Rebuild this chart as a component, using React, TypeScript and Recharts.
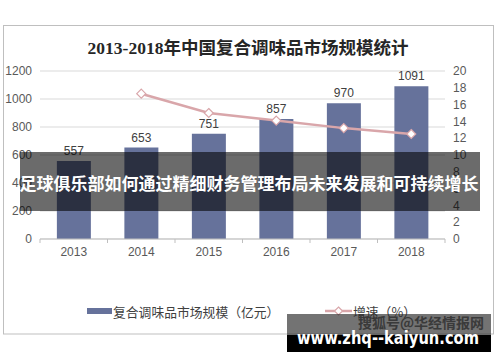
import React from 'react';
import { ComposedChart, Bar, Line, XAxis, YAxis, CartesianGrid, LabelList } from 'recharts';

const years = ['2013', '2014', '2015', '2016', '2017', '2018'];
const marketSize = [557, 653, 751, 857, 970, 1091];
const growth: (number | null)[] = [null, 17.3, 15.0, 14.1, 13.2, 12.5];
const leftTicks = [0, 200, 400, 600, 800, 1000, 1200];
const rightTicks = [0, 2, 4, 6, 8, 10, 12, 14, 16, 18, 20];

const title = '2013-2018年中国复合调味品市场规模统计';
const barName = '复合调味品市场规模（亿元）';
const lineName = '增速（%）';
const bannerText = '足球俱乐部如何通过精细财务管理布局未来发展和可持续增长';
const wmTop = '搜狐号@华经情报网';
const wmUrl = 'www.zhq--kaiyun.com';

const data = years.map((y, i) => ({ year: y, size: marketSize[i], growth: growth[i] }));

const BAR_COLOR = '#66729b';
const LINE_COLOR = '#d9a6aa';
const TICK_FONT = '"Liberation Sans", Arial, sans-serif';
const CJK = '"Noto Sans CJK SC", sans-serif';

const Diamond = (props: any) => {
  const { cx, cy, value } = props;
  if (value == null || cx == null || cy == null) return null;
  const r = 4.5;
  return (
    <path
      d={`M${cx},${cy - r} L${cx + r},${cy} L${cx},${cy + r} L${cx - r},${cy} Z`}
      fill="#ffffff"
      stroke={LINE_COLOR}
      strokeWidth={1.2}
    />
  );
};

const XTick = (props: any) => {
  const { x, y, payload, index } = props;
  const half = 33.75;
  return (
    <g>
      <line x1={x - half} x2={x - half} y1={y - 8} y2={y - 4} stroke="#bfbfbf" />
      {index === years.length - 1 && (
        <line x1={x + half} x2={x + half} y1={y - 8} y2={y - 4} stroke="#bfbfbf" />
      )}
      <text x={x} y={y} dy="0.71em" textAnchor="middle" fill="#595959" fontSize={12} fontFamily={TICK_FONT}>
        {payload.value}
      </text>
    </g>
  );
};

export default function App() {
  return (
    <div style={{ position: 'absolute', left: 0, top: 0, width: 500, height: 362, background: '#ffffff', overflow: 'hidden' }}>
      <ComposedChart
        width={500}
        height={362}
        data={data}
        margin={{ top: 71, right: 0, bottom: 93, left: 0 }}
        barCategoryGap="25%"
      >
        <CartesianGrid yAxisId="left" vertical={false} stroke="#d9d9d9" />
        <XAxis
          dataKey="year"
          axisLine={{ stroke: '#bfbfbf' }}
          tickLine={false}
          tickSize={0}
          tickMargin={8}
          tick={<XTick />}
          interval={0}
        />
        <YAxis
          yAxisId="left"
          orientation="left"
          width={40}
          domain={[0, 1200]}
          ticks={leftTicks}
          interval={0}
          axisLine={false}
          tickLine={false}
          tick={{ fill: '#595959', fontSize: 12, fontFamily: TICK_FONT }}
        />
        <YAxis
          yAxisId="right"
          orientation="right"
          width={55}
          domain={[0, 20]}
          ticks={rightTicks}
          interval={0}
          axisLine={false}
          tickLine={false}
          tick={{ fill: '#595959', fontSize: 12, fontFamily: TICK_FONT, textAnchor: 'start' }}
        />
        <Bar yAxisId="left" dataKey="size" fill={BAR_COLOR} isAnimationActive={false}>
          <LabelList dataKey="size" position="top" offset={6} fill="#404040" fontSize={12} fontFamily={TICK_FONT} />
        </Bar>
        <Line
          yAxisId="right"
          dataKey="growth"
          stroke={LINE_COLOR}
          strokeWidth={2.5}
          dot={<Diamond />}
          activeDot={false}
          isAnimationActive={false}
        />
      </ComposedChart>

      <svg width={500} height={362} style={{ position: 'absolute', left: 0, top: 0, pointerEvents: 'none' }}>
        <rect x={3.5} y={25.5} width={490} height={308.5} fill="none" stroke="#bfbfbf" strokeWidth={1} />
        <text x={248} y={48} textAnchor="middle" dominantBaseline="central" fontSize={17.5} fontWeight="bold"
          fontFamily={'"Liberation Serif", "Noto Sans CJK SC", serif'} fill="#262626">
          {title}
        </text>

        {/* legend */}
        <rect x={87} y={308} width={25} height={6} fill={BAR_COLOR} />
        <text x={113} y={311} dominantBaseline="central" fontSize={12.8} fontFamily={CJK} fill="#404040">{barName}</text>
        <line x1={325} x2={352} y1={311} y2={311} stroke={LINE_COLOR} strokeWidth={2.5} />
        <path d="M338.5,307 L342.5,311 L338.5,315 L334.5,311 Z" fill="#fff" stroke={LINE_COLOR} strokeWidth={1.2} />
        <text x={353} y={311} dominantBaseline="central" fontSize={12.8} fontFamily={CJK} fill="#404040">{lineName}</text>

        {/* banner overlay */}
        <rect x={20} y={152} width={460} height={59} fill="rgba(0,0,0,0.58)" />
        <text x={249} y={182} textAnchor="middle" dominantBaseline="central" fontSize={17} fontWeight="bold"
          fontFamily={CJK} fill="#ffffff">
          {bannerText}
        </text>

        {/* watermark */}
        <rect x={287} y={314} width={204} height={21} fill="rgba(40,40,40,0.65)" />
        <text x={484} y={322} textAnchor="end" dominantBaseline="central" fontSize={14} fontWeight="bold"
          fontFamily={CJK} fill="#3a3a3a">{wmTop}</text>
        <rect x={287} y={335} width={204} height={17} fill="#000000" />
        <text x={297} y={338} dominantBaseline="central" fontSize={17} fontWeight="bold"
          fontFamily={'"DejaVu Sans", sans-serif'} fill="#ffffff" textLength={182} lengthAdjust="spacingAndGlyphs">
          {wmUrl}
        </text>
      </svg>
    </div>
  );
}
